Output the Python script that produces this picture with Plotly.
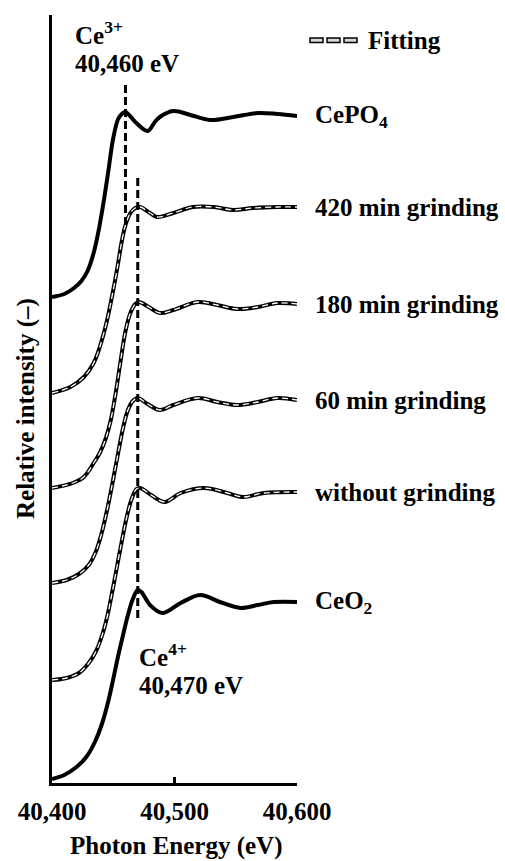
import plotly.graph_objects as go

# ---------------- data ----------------
# energies in eV, intensities in stacked relative units (offset included)
cepo4_e = [40400, 40410, 40418, 40424, 40429, 40434, 40438, 40442, 40446, 40450, 40454, 40457,
           40460, 40468, 40478, 40484, 40488, 40499, 40513, 40529, 40548, 40568, 40584, 40600]
cepo4_i = [4.86, 4.89, 4.95, 5.02, 5.12, 5.30, 5.52, 5.80, 6.12, 6.45, 6.64, 6.69,
           6.71, 6.61, 6.52, 6.61, 6.66, 6.72, 6.68, 6.63, 6.66, 6.70, 6.69, 6.67]

g420_e = [40400, 40415, 40426, 40434, 40439, 40445, 40450, 40454, 40457, 40460, 40464, 40468,
          40472, 40480, 40486, 40499, 40515, 40532, 40548, 40564, 40584, 40600]
g420_i = [3.90, 3.96, 4.06, 4.20, 4.36, 4.63, 4.93, 5.20, 5.42, 5.58, 5.70, 5.75,
          5.76, 5.70, 5.66, 5.70, 5.76, 5.76, 5.73, 5.75, 5.76, 5.76]

g180_e = [40400, 40417, 40426, 40434, 40439, 40444, 40448, 40452, 40456, 40460, 40464, 40468,
          40471, 40479, 40488, 40499, 40519, 40535, 40551, 40568, 40584, 40600]
g180_i = [2.95, 3.00, 3.06, 3.20, 3.30, 3.45, 3.63, 3.90, 4.22, 4.52, 4.70, 4.79,
          4.81, 4.76, 4.70, 4.73, 4.81, 4.78, 4.74, 4.76, 4.80, 4.79]

g60_e = [40400, 40412, 40422, 40430, 40436, 40441, 40446, 40450, 40454, 40458, 40462, 40466,
         40470, 40478, 40488, 40499, 40519, 40535, 40551, 40568, 40584, 40600]
g60_i = [2.00, 2.03, 2.09, 2.18, 2.32, 2.52, 2.79, 3.04, 3.30, 3.55, 3.73, 3.82,
         3.85, 3.79, 3.73, 3.78, 3.85, 3.81, 3.78, 3.81, 3.85, 3.83]

g0_e = [40400, 40412, 40422, 40430, 40436, 40441, 40445, 40449, 40453, 40457, 40461, 40465,
        40469, 40472, 40481, 40492, 40505, 40524, 40543, 40556, 40573, 40600]
g0_i = [1.03, 1.05, 1.10, 1.20, 1.32, 1.48, 1.66, 1.90, 2.16, 2.42, 2.66, 2.84,
        2.94, 2.95, 2.88, 2.81, 2.90, 2.95, 2.90, 2.86, 2.90, 2.91]

ceo2_e = [40400, 40410, 40420, 40428, 40435, 40441, 40446, 40450, 40454, 40458, 40462, 40466,
          40470, 40473, 40480, 40490, 40505, 40521, 40537, 40554, 40568, 40581, 40600]
ceo2_i = [0.04, 0.08, 0.16, 0.26, 0.41, 0.60, 0.82, 1.04, 1.27, 1.48, 1.68, 1.84,
          1.93, 1.91, 1.78, 1.70, 1.80, 1.88, 1.81, 1.75, 1.78, 1.81, 1.81]

series_names = ["CePO<sub>4</sub>", "420 min grinding", "180 min grinding",
                "60 min grinding", "without grinding", "CeO<sub>2</sub>"]
series_e = [cepo4_e, g420_e, g180_e, g60_e, g0_e, ceo2_e]
series_i = [cepo4_i, g420_i, g180_i, g60_i, g0_i, ceo2_i]
has_fit = [False, True, True, True, True, False]

# reference edge energies
ce3_energy = 40460
ce3_span = [5.58, 6.98]
ce4_energy = 40470
ce4_span = [1.65, 6.05]

x_ticks = [40400, 40500, 40600]
x_ticktext = ["40,400", "40,500", "40,600"]

# ---------------- figure ----------------
W, H = 505, 861
ML, MR, MT, MB = 52, 208, 15, 78
PW, PH = W - ML - MR, H - MT - MB
FONT = dict(family="Liberation Serif", size=25, color="black", weight="bold")


def px_x(p):
    return (p - ML) / PW


def px_y(p):
    return (H - MB - p) / PH


fig = go.Figure()

for name, e, i, fit in zip(series_names, series_e, series_i, has_fit):
    fig.add_trace(go.Scatter(x=e, y=i, mode="lines", name=name,
                             line=dict(color="black", width=4, shape="spline", smoothing=1.0),
                             showlegend=False, hoverinfo="skip"))
    if fit:
        fig.add_trace(go.Scatter(x=e, y=i, mode="lines", name="Fitting",
                                 line=dict(color="white", width=1.3, dash="6px,4px",
                                           shape="spline", smoothing=1.0),
                                 showlegend=False, hoverinfo="skip"))
    fig.add_annotation(x=e[-1], y=i[-1], xref="x", yref="y", text=name,
                       xanchor="left", yanchor="middle", xshift=16, showarrow=False,
                       font=FONT)

# vertical dashed reference lines
for en, span in [(ce3_energy, ce3_span), (ce4_energy, ce4_span)]:
    fig.add_shape(type="line", xref="x", yref="y", x0=en, x1=en, y0=span[0], y1=span[1],
                  line=dict(color="black", width=3, dash="8px,4px"), layer="above")

# Ce labels
fig.add_annotation(x=px_x(73), y=px_y(33), xref="paper", yref="paper", text="Ce<sup>3+</sup>",
                   xanchor="left", yanchor="middle", showarrow=False, font=FONT)
fig.add_annotation(x=px_x(73), y=px_y(63), xref="paper", yref="paper", text="40,460 eV",
                   xanchor="left", yanchor="middle", showarrow=False, font=FONT)
fig.add_annotation(x=px_x(137), y=px_y(655), xref="paper", yref="paper", text="Ce<sup>4+</sup>",
                   xanchor="left", yanchor="middle", showarrow=False, font=FONT)
fig.add_annotation(x=px_x(137), y=px_y(685), xref="paper", yref="paper", text="40,470 eV",
                   xanchor="left", yanchor="middle", showarrow=False, font=FONT)

# legend key for Fitting
for k in range(3):
    x0 = 310 + k * 17
    fig.add_shape(type="rect", xref="paper", yref="paper",
                  x0=px_x(x0), x1=px_x(x0 + 13), y0=px_y(42.5), y1=px_y(38),
                  line=dict(color="black", width=1.5), fillcolor="#d8d8d8")
fig.add_annotation(x=px_x(366), y=px_y(40), xref="paper", yref="paper", text="Fitting",
                   xanchor="left", yanchor="middle", showarrow=False, font=FONT)

# axis titles
fig.add_annotation(x=px_x(176), y=px_y(846), xref="paper", yref="paper",
                   text="Photon Energy (eV)", xanchor="center", yanchor="middle",
                   showarrow=False, font=FONT)
fig.add_annotation(x=px_x(26), y=px_y(409), xref="paper", yref="paper",
                   text="Relative intensity (–)", textangle=-90, xanchor="center",
                   yanchor="middle", showarrow=False, font=FONT)

fig.update_xaxes(range=[40400, 40600], showline=True, linewidth=3, linecolor="black",
                 showgrid=False, zeroline=False, ticks="inside", ticklen=6, tickwidth=3,
                 tickcolor="black", tickvals=x_ticks, ticktext=x_ticktext,
                 tickfont=FONT, ticklabelstandoff=4)
fig.update_yaxes(range=[0, 7.68], showline=True, linewidth=3, linecolor="black",
                 showgrid=False, zeroline=False, showticklabels=False, ticks="")

fig.update_layout(width=W, height=H, margin=dict(l=ML, r=MR, t=MT, b=MB),
                  plot_bgcolor="white", paper_bgcolor="white", showlegend=False)

fig.write_html("out.html")
